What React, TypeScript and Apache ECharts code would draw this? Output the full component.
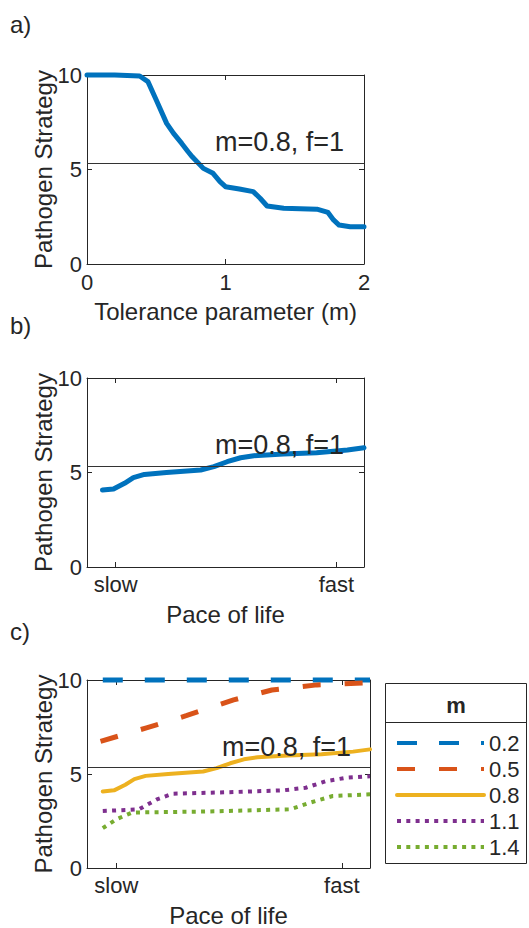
import React, { useEffect, useRef } from "react";
import * as echarts from "echarts";

// ---- Data ----
// Panel a: pathogen strategy vs tolerance parameter m
const tolX = [0, 0.2, 0.38, 0.44, 0.5, 0.575, 0.625, 0.684, 0.73, 0.76, 0.84, 0.91, 0.96, 1.0, 1.1, 1.2, 1.25, 1.3, 1.42, 1.66, 1.74, 1.78, 1.82, 1.9, 2.0];
const tolY = [10, 10, 9.95, 9.65, 8.68, 7.44, 6.91, 6.38, 5.94, 5.67, 5.06, 4.8, 4.36, 4.09, 3.97, 3.83, 3.48, 3.07, 2.95, 2.9, 2.73, 2.33, 2.06, 1.97, 1.97];

// Panel b (and c, m=0.8): pace of life (slow=0, fast=1)
const pace08X = [-0.06, -0.01, 0.04, 0.08, 0.13, 0.23, 0.385, 0.445, 0.505, 0.566, 0.626, 0.76, 0.91, 1.05, 1.125];
const pace08Y = [4.07, 4.13, 4.43, 4.73, 4.9, 5.0, 5.13, 5.31, 5.57, 5.78, 5.89, 5.98, 6.05, 6.19, 6.31];

// Panel c, other m values
const pace02X = [-0.06, 1.125];
const pace02Y = [10, 10];
const pace05X = [-0.07, 0.13, 0.31, 0.52, 0.69, 0.89, 1.124];
const pace05Y = [6.74, 7.44, 8.1, 8.94, 9.47, 9.74, 9.86];
const pace11X = [-0.06, 0.1, 0.18, 0.25, 0.52, 0.74, 0.84, 0.93, 1.02, 1.125];
const pace11Y = [3.03, 3.12, 3.65, 3.95, 4.04, 4.13, 4.27, 4.62, 4.8, 4.88];
const pace14X = [-0.06, 0.0, 0.07, 0.38, 0.77, 0.86, 0.96, 1.125];
const pace14Y = [2.12, 2.59, 2.95, 3.0, 3.12, 3.48, 3.83, 3.92];

const mLabels = ["0.2", "0.5", "0.8", "1.1", "1.4"];
const refLineY = 5.35;
const annotation = "m=0.8, f=1";
const paceTickValues = [0, 1];
const paceTickLabels = ["slow", "fast"];
const yTicks = [0, 5, 10];

const FONT = "'Liberation Sans', Arial, Helvetica, sans-serif";
const INK = "#262626";
const C = { blue: "#0072BD", orange: "#D95319", yellow: "#EDB120", purple: "#7E2F8E", green: "#77AC30" };

const pairs = (xs: number[], ys: number[]) => xs.map((x, i) => [x, ys[i]]);

export default function App() {
  const ref = useRef<HTMLDivElement>(null);
  useEffect(() => {
    if (!ref.current) return;
    const chart = echarts.init(ref.current, undefined, { renderer: "svg" });

    const grids = [
      { left: 87, top: 75, width: 277, height: 189 },
      { left: 87, top: 378, width: 277, height: 189 },
      { left: 87, top: 680, width: 283, height: 189 },
    ];

    const axisLine = { show: true, onZero: false, lineStyle: { color: INK, width: 1 } };
    const tickIn = { show: true, inside: true, length: 5, lineStyle: { color: INK } };

    const xMain = (gi: number, pace: boolean, name: string) => ({
      type: "value",
      gridIndex: gi,
      position: "bottom",
      min: pace ? -0.13 : 0,
      max: pace ? 1.125 : 2,
      interval: pace ? undefined : 1,
      axisLine,
      axisTick: pace ? { ...tickIn, customValues: paceTickValues } : tickIn,
      axisLabel: pace
        ? {
            customValues: paceTickValues,
            formatter: (v: number) => paceTickLabels[paceTickValues.indexOf(v)] ?? "",
            fontSize: 22, color: INK, fontFamily: FONT, margin: 6,
          }
        : { fontSize: 22, color: INK, fontFamily: FONT, margin: 7 },
      splitLine: { show: false },
      name,
      nameLocation: "middle",
      nameGap: 35,
      nameMoveOverlap: false,
      nameTextStyle: { fontSize: 24, color: INK, fontFamily: FONT },
    });
    const xTop = (gi: number, pace: boolean) => ({
      type: "value",
      gridIndex: gi,
      position: "top",
      min: pace ? -0.13 : 0,
      max: pace ? 1.125 : 2,
      interval: pace ? undefined : 1,
      axisLine,
      axisTick: pace ? { ...tickIn, customValues: paceTickValues } : tickIn,
      axisLabel: { show: false },
      splitLine: { show: false },
    });
    const yMain = (gi: number) => ({
      type: "value",
      gridIndex: gi,
      position: "left",
      min: 0,
      max: 10,
      interval: 5,
      axisLine,
      axisTick: tickIn,
      axisLabel: { fontSize: 22, color: INK, fontFamily: FONT, margin: 5, customValues: yTicks },
      splitLine: { show: false },
      name: "Pathogen Strategy",
      nameLocation: "middle",
      nameGap: 32,
      nameMoveOverlap: false,
      nameTextStyle: { fontSize: 24, color: INK, fontFamily: FONT },
    });
    const yRight = (gi: number) => ({
      type: "value",
      gridIndex: gi,
      position: "right",
      min: 0,
      max: 10,
      interval: 5,
      axisLine,
      axisTick: tickIn,
      axisLabel: { show: false },
      splitLine: { show: false },
    });

    const refMark = {
      silent: true,
      symbol: "none",
      label: { show: false },
      lineStyle: { color: "#333", width: 1, type: "solid" },
      data: [{ yAxis: refLineY }],
    };

    const lineSeries = (name: string, xi: number, yi: number, xs: number[], ys: number[], color: string, width: number, type: any, cap: string, mark = false) => ({
      type: "line",
      name,
      xAxisIndex: xi,
      yAxisIndex: yi,
      data: pairs(xs, ys),
      symbol: "none",
      showSymbol: false,
      clip: false,
      lineStyle: { color, width, type, cap, join: "round" },
      itemStyle: { color },
      markLine: mark ? refMark : undefined,
      z: 3,
    });

    const option: any = {
      animation: false,
      backgroundColor: "#fff",
      grid: grids,
      xAxis: [
        xMain(0, false, "Tolerance parameter (m)"), xTop(0, false),
        xMain(1, true, "Pace of life"), xTop(1, true),
        xMain(2, true, "Pace of life"), xTop(2, true),
      ],
      yAxis: [yMain(0), yRight(0), yMain(1), yRight(1), yMain(2), yRight(2)],
      legend: {
        orient: "vertical",
        left: 390,
        top: 725,
        data: mLabels,
        itemWidth: 87,
        itemHeight: 14,
        itemGap: 0,
        itemStyle: { opacity: 0 },
        lineStyle: { width: 4 },
        textStyle: { fontSize: 22, color: INK, fontFamily: FONT, lineHeight: 26 },
        selectedMode: false,
        z: 10,
      },
      series: [
        lineSeries("a", 0, 0, tolX, tolY, C.blue, 5, "solid", "round", true),
        lineSeries("b", 2, 2, pace08X, pace08Y, C.blue, 5, "solid", "round", true),
        lineSeries(mLabels[0], 4, 4, pace02X, pace02Y, C.blue, 5, [20, 22], "butt"),
        lineSeries(mLabels[1], 4, 4, pace05X, pace05Y, C.orange, 5, [18, 24], "butt"),
        lineSeries(mLabels[2], 4, 4, pace08X, pace08Y, C.yellow, 4, "solid", "round", true),
        lineSeries(mLabels[3], 4, 4, pace11X, pace11Y, C.purple, 4, [4, 5.3], "butt"),
        lineSeries(mLabels[4], 4, 4, pace14X, pace14Y, C.green, 4, [4, 5.3], "butt"),
      ],
      graphic: [
        { type: "text", x: 10, y: 24, style: { text: "a)", fontSize: 24, fontFamily: FONT, fill: INK, verticalAlign: "middle" } },
        { type: "text", x: 10, y: 325, style: { text: "b)", fontSize: 24, fontFamily: FONT, fill: INK, verticalAlign: "middle" } },
        { type: "text", x: 10, y: 631, style: { text: "c)", fontSize: 24, fontFamily: FONT, fill: INK, verticalAlign: "middle" } },
        { type: "text", x: 215, y: 142, z: 20, style: { text: annotation, fontSize: 27, fontFamily: FONT, fill: INK, verticalAlign: "middle" } },
        { type: "text", x: 215, y: 445, z: 20, style: { text: annotation, fontSize: 27, fontFamily: FONT, fill: INK, verticalAlign: "middle" } },
        { type: "text", x: 222, y: 747, z: 20, style: { text: annotation, fontSize: 27, fontFamily: FONT, fill: INK, verticalAlign: "middle" } },
        { type: "rect", z: 1, shape: { x: 385.5, y: 683.5, width: 141, height: 180 }, style: { fill: "#fff", stroke: INK, lineWidth: 1 } },
        { type: "line", z: 2, shape: { x1: 385.5, y1: 722.5, x2: 526.5, y2: 722.5 }, style: { stroke: INK, lineWidth: 1 } },
        { type: "text", x: 456, y: 705, z: 2, style: { text: "m", fontSize: 22, fontWeight: "bold", fontFamily: FONT, fill: INK, align: "center", verticalAlign: "middle" } },
      ],
    };
    chart.setOption(option);
    return () => chart.dispose();
  }, []);
  return <div ref={ref} style={{ position: "absolute", left: 0, top: 0, width: 529, height: 928 }} />;
}
